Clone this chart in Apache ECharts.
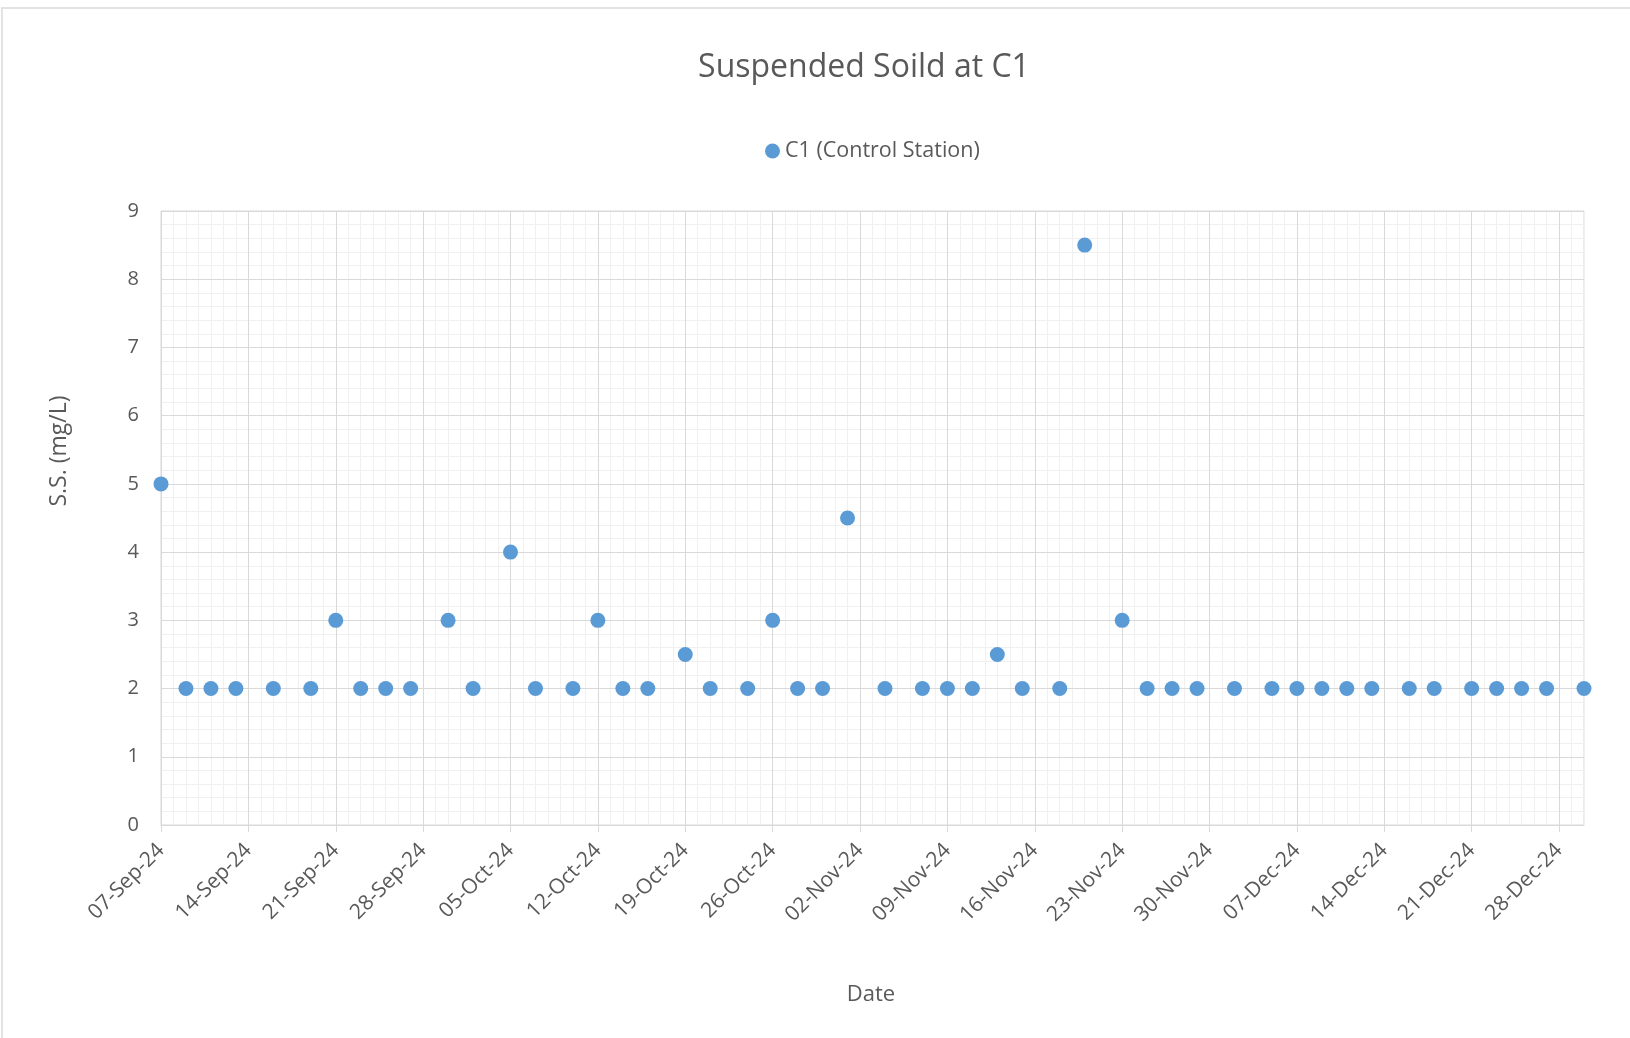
<!DOCTYPE html>
<html>
<head>
<meta charset="utf-8">
<script src="https://cdn.jsdelivr.net/npm/echarts@6/dist/echarts.min.js"></script>
<style>
  html, body { margin: 0; padding: 0; background: #fff; }
  #frame { position: absolute; left: 1px; top: 7px; width: 1700px; height: 1100px; border: 2px solid #e3e3e3; box-sizing: border-box; }
  #chart { position: absolute; left: 0; top: 0; width: 1630px; height: 1038px; }
</style>
</head>
<body>
<div id="frame"></div>
<div id="chart"></div>
<script>
// sampling dates and S.S. readings (mg/L)
var sampleDates = [
  '2024-09-07', '2024-09-09', '2024-09-11', '2024-09-13', '2024-09-16', '2024-09-19', '2024-09-21',
  '2024-09-23', '2024-09-25', '2024-09-27', '2024-09-30', '2024-10-02', '2024-10-05', '2024-10-07',
  '2024-10-10', '2024-10-12', '2024-10-14', '2024-10-16', '2024-10-19', '2024-10-21', '2024-10-24',
  '2024-10-26', '2024-10-28', '2024-10-30', '2024-11-01', '2024-11-04', '2024-11-07', '2024-11-09',
  '2024-11-11', '2024-11-13', '2024-11-15', '2024-11-18', '2024-11-20', '2024-11-23', '2024-11-25',
  '2024-11-27', '2024-11-29', '2024-12-02', '2024-12-05', '2024-12-07', '2024-12-09', '2024-12-11',
  '2024-12-13', '2024-12-16', '2024-12-18', '2024-12-21', '2024-12-23', '2024-12-25', '2024-12-27',
  '2024-12-30'
];
var ssValues = [
  5, 2, 2, 2, 2, 2, 3,
  2, 2, 2, 3, 2, 4, 2,
  2, 3, 2, 2, 2.5, 2, 2,
  3, 2, 2, 4.5, 2, 2, 2,
  2, 2.5, 2, 2, 8.5, 3, 2,
  2, 2, 2, 2, 2, 2, 2,
  2, 2, 2, 2, 2, 2, 2,
  2
];
// weekly tick labels on the date axis
var tickLabels = [
  '07-Sep-24', '14-Sep-24', '21-Sep-24', '28-Sep-24', '05-Oct-24', '12-Oct-24', '19-Oct-24',
  '26-Oct-24', '02-Nov-24', '09-Nov-24', '16-Nov-24', '23-Nov-24', '30-Nov-24', '07-Dec-24',
  '14-Dec-24', '21-Dec-24', '28-Dec-24'
];
var yTicks = [0, 1, 2, 3, 4, 5, 6, 7, 8, 9];

var DAY = 86400000;
var startDay = Date.parse('2024-09-07');
var endDay = Date.parse('2024-12-30');
// axis runs in days counted from the first sample
var dayMax = (endDay - startDay) / DAY;
var tickDays = tickLabels.map(function (t, i) { return i * 7; });
var points = sampleDates.map(function (d, i) {
  return [(Date.parse(d) - startDay) / DAY, ssValues[i]];
});

var txt = '#595959';
var font = '"Open Sans", "DejaVu Sans", sans-serif';

var chart = echarts.init(document.getElementById('chart'));
chart.setOption({
  animation: false,
  textStyle: { fontFamily: font },
  title: {
    text: 'Suspended Soild at C1',
    left: 864,
    top: 52,
    textAlign: 'center',
    padding: 0,
    textStyle: { fontFamily: font, fontSize: 32, fontWeight: 'normal', color: txt }
  },
  legend: {
    left: 765,
    top: 140,
    padding: 0,
    itemWidth: 15,
    itemHeight: 15,
    itemGap: 10,
    icon: 'circle',
    textStyle: { fontFamily: font, fontSize: 21.5, color: txt, padding: [0, 0, 0, 0] },
    data: ['C1 (Control Station)']
  },
  grid: {
    left: 161,
    right: 46,
    top: 211,
    bottom: 213,
    show: true,
    borderColor: '#d9d9d9',
    borderWidth: 1,
    containLabel: false
  },
  xAxis: [
    {
      type: 'value',
      min: 0,
      max: dayMax,
      interval: 7,
      z: 2,
      axisLine: { lineStyle: { color: '#d9d9d9', width: 1 } },
      axisTick: { show: true, length: 7, lineStyle: { color: '#d9d9d9' }, customValues: tickDays },
      axisLabel: {
        rotate: 45,
        margin: 22,
        fontSize: 21,
        color: txt,
        fontFamily: font,
        customValues: tickDays,
        formatter: function (v) { return tickLabels[Math.round(v / 7)]; }
      },
      splitLine: { show: true, lineStyle: { color: '#d9d9d9', width: 1 } }
    },
    {
      // daily minor grid
      type: 'value',
      min: 0,
      max: dayMax,
      interval: 1,
      z: 0,
      axisLine: { show: false },
      axisTick: { show: false },
      axisLabel: { show: false },
      splitLine: { show: true, lineStyle: { color: '#f0f0f0', width: 1 } }
    }
  ],
  yAxis: {
    type: 'value',
    min: yTicks[0],
    max: yTicks[yTicks.length - 1],
    interval: 1,
    z: 1,
    axisLine: { show: true, lineStyle: { color: '#d9d9d9', width: 1 } },
    axisTick: { show: false },
    axisLabel: { margin: 22, fontSize: 20, color: txt, fontFamily: font },
    splitLine: { show: true, lineStyle: { color: '#d9d9d9', width: 1 } },
    minorTick: { show: false, splitNumber: 5 },
    minorSplitLine: { show: true, lineStyle: { color: '#f0f0f0', width: 1 } }
  },
  graphic: [
    {
      type: 'text',
      x: 59,
      y: 451,
      rotation: Math.PI / 2,
      style: {
        text: 'S.S. (mg/L)',
        fill: txt,
        font: '23px ' + font,
        align: 'center',
        verticalAlign: 'middle'
      }
    },
    {
      type: 'text',
      x: 871,
      y: 995,
      style: {
        text: 'Date',
        fill: txt,
        font: '22px ' + font,
        align: 'center',
        verticalAlign: 'middle'
      }
    }
  ],
  series: [
    {
      name: 'C1 (Control Station)',
      type: 'scatter',
      xAxisIndex: 0,
      yAxisIndex: 0,
      symbol: 'circle',
      symbolSize: 15,
      z: 5,
      itemStyle: { color: '#5b9bd5', opacity: 1 },
      data: points
    }
  ]
});
</script>
</body>
</html>
